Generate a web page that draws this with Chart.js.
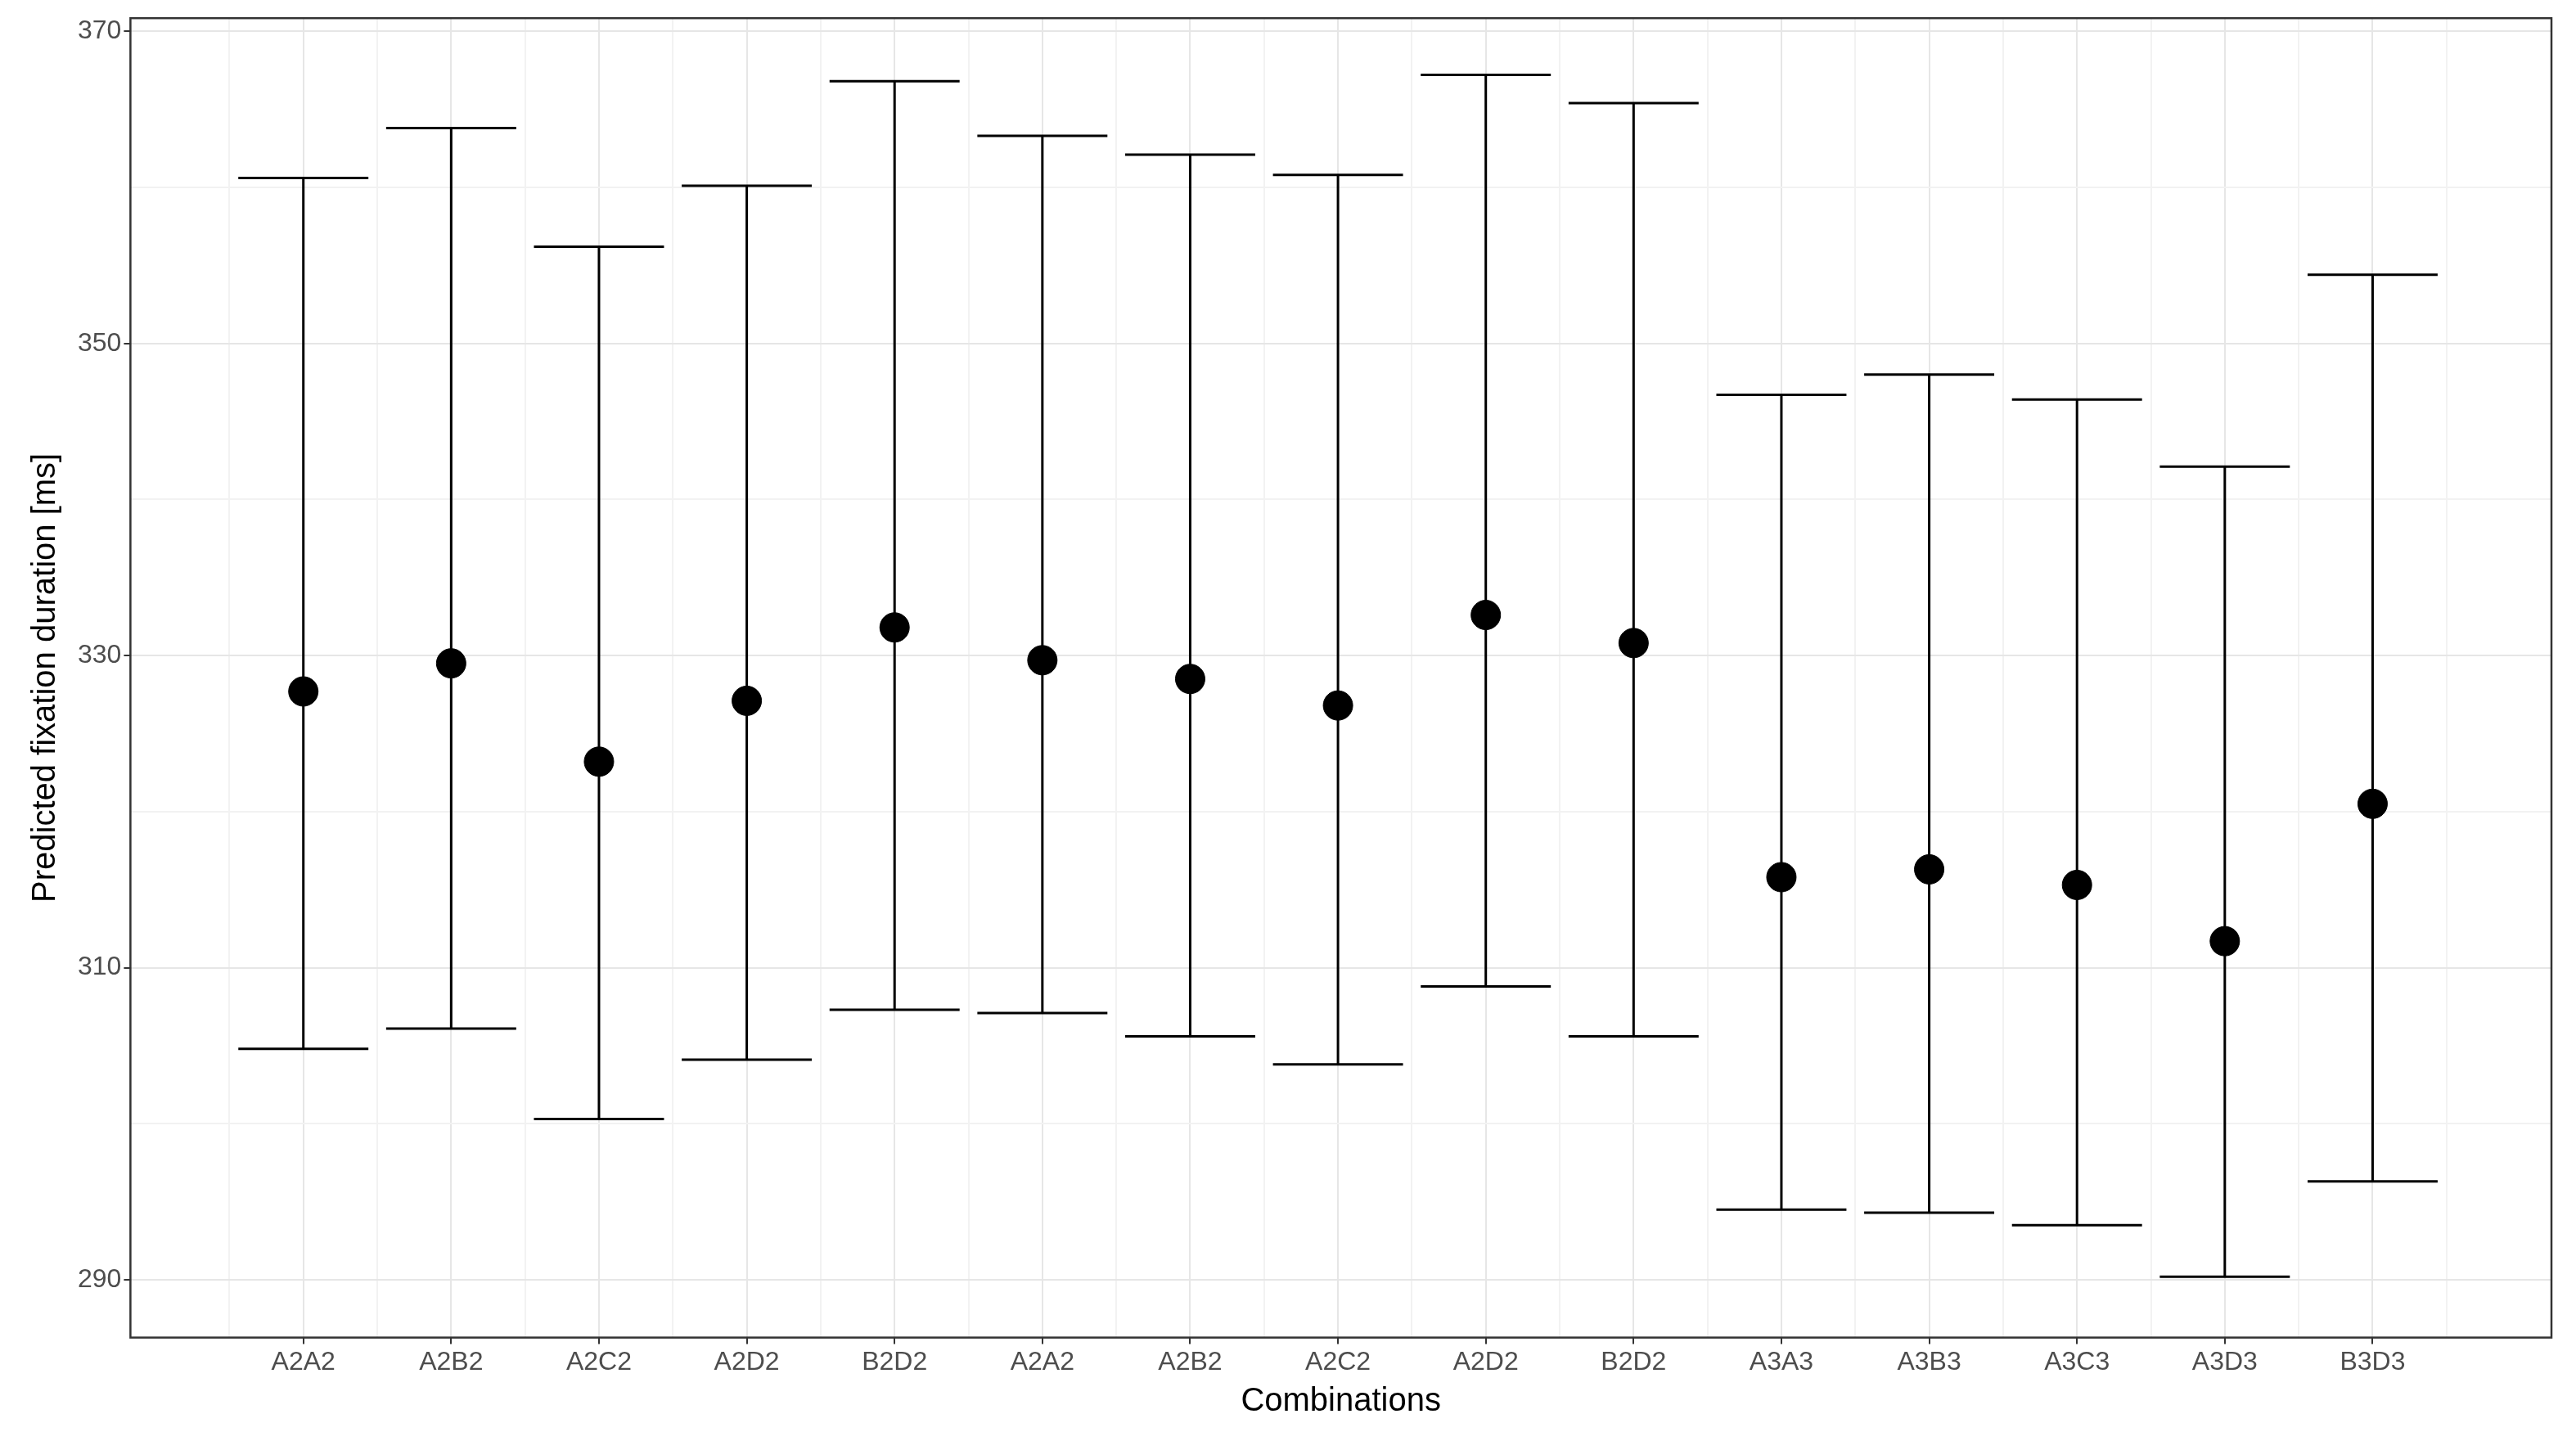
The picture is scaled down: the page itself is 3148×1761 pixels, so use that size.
<!DOCTYPE html>
<html><head><meta charset="utf-8">
<script src="https://cdn.jsdelivr.net/npm/chart.js@4"></script>
<style>html,body{margin:0;padding:0;background:#fff}#w{width:3148px;height:1761px}</style>
</head><body><div id="w"><canvas id="c"></canvas></div>
<script>
const categories = ["A2A2","A2B2","A2C2","A2D2","B2D2","A2A2","A2B2","A2C2","A2D2","B2D2","A3A3","A3B3","A3C3","A3D3","B3D3"];
const predicted = [327.7,329.5,323.2,327.1,331.8,329.7,328.5,326.8,332.6,330.8,315.8,316.3,315.3,311.7,320.5];
const upper = [360.6,363.8,356.2,360.1,366.8,363.3,362.1,360.8,367.2,365.4,346.7,348.0,346.4,342.1,354.4];
const lower = [304.8,306.1,300.3,304.1,307.3,307.1,305.6,303.8,308.8,305.6,294.5,294.3,293.5,290.2,296.3];
const yTickLabels = [290,310,330,350,370];

const errPlugin = {
  id:'err',
  beforeDatasetsDraw(chart){
    const {ctx, scales:{x,y}} = chart;
    ctx.save(); ctx.strokeStyle='#000'; ctx.lineWidth=3;
    categories.forEach((c,i)=>{
      const px=x.getPixelForValue(i), l=x.getPixelForValue(i-0.44), r=x.getPixelForValue(i+0.44);
      const yu=y.getPixelForValue(upper[i]), yl=y.getPixelForValue(lower[i]);
      ctx.beginPath();
      ctx.moveTo(px,yu);ctx.lineTo(px,yl);
      ctx.moveTo(l,yu);ctx.lineTo(r,yu);
      ctx.moveTo(l,yl);ctx.lineTo(r,yl);
      ctx.stroke();
    });
    ctx.restore();
  }
};
const borderPlugin = {
  id:'border',
  afterDraw(chart){
    const {ctx, chartArea:a}=chart;
    ctx.save();ctx.strokeStyle='#333';ctx.lineWidth=2.5;
    ctx.strokeRect(a.left,a.top,a.right-a.left,a.bottom-a.top);ctx.restore();
  }
};
new Chart(document.getElementById('c'),{
  type:'scatter',
  data:{datasets:[{data:predicted.map((v,i)=>({x:i,y:v})),backgroundColor:'#000',borderColor:'#000',pointRadius:18,pointHoverRadius:18}]},
  options:{
    responsive:true,maintainAspectRatio:false,animation:false,devicePixelRatio:1,
    layout:{padding:{top:20,right:30,left:28,bottom:20}},
    plugins:{legend:{display:false},tooltip:{enabled:false}},
    scales:{
      x:{type:'linear',min:-1.17,max:15.21,
        afterBuildTicks(s){const t=[];for(let v=-0.5;v<=14.5001;v+=0.5)t.push({value:v});s.ticks=t;},
        ticks:{autoSkip:false,maxRotation:0,color:'#4d4d4d',font:{size:32,family:'Liberation Sans'},
          callback:(v)=>Number.isInteger(v)?categories[v]:''},
        grid:{color:(c)=>Number.isInteger(c.tick.value)?'#e6e6e6':'#f2f2f2',lineWidth:2,
          tickColor:(c)=>Number.isInteger(c.tick.value)?'#333':'rgba(0,0,0,0)',tickLength:8},
        border:{display:false},
        title:{display:true,text:'Combinations',color:'#000',font:{size:40,family:'Liberation Sans'},padding:{top:2}}
      },
      y:{min:286.3,max:370.84,
        afterBuildTicks(s){const t=[];for(let v=290;v<=370;v+=10)t.push({value:v});s.ticks=t;},
        ticks:{autoSkip:false,color:'#4d4d4d',font:{size:32,family:'Liberation Sans'},
          callback:(v)=>yTickLabels.includes(v)?String(v):''},
        grid:{color:(c)=>yTickLabels.includes(c.tick.value)?'#e6e6e6':'#f2f2f2',lineWidth:2,
          tickColor:(c)=>yTickLabels.includes(c.tick.value)?'#333':'rgba(0,0,0,0)',tickLength:8},
        border:{display:false},
        title:{display:true,text:'Predicted fixation duration [ms]',color:'#000',font:{size:40,family:'Liberation Sans'},padding:{bottom:12}}
      }
    }
  },
  plugins:[errPlugin,borderPlugin]
});
</script></body></html>
